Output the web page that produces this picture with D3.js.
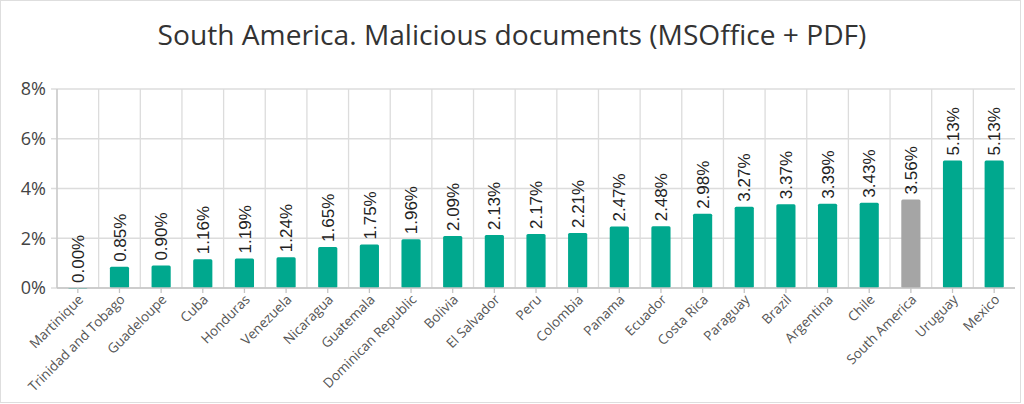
<!DOCTYPE html>
<html>
<head>
<meta charset="utf-8">
<script src="https://cdn.jsdelivr.net/npm/d3@7"></script>
<style>
    body { margin: 0; background: #fff; }
    svg { display: block; }
</style>
</head>
<body>
<div id="chart"></div>
<script>
// chart data
const countries = ["Martinique", "Trinidad and Tobago", "Guadeloupe", "Cuba", "Honduras", "Venezuela",
    "Nicaragua", "Guatemala", "Dominican Republic", "Bolivia", "El Salvador", "Peru", "Colombia",
    "Panama", "Ecuador", "Costa Rica", "Paraguay", "Brazil", "Argentina", "Chile", "South America",
    "Uruguay", "Mexico"];
const shares = [0.00, 0.85, 0.90, 1.16, 1.19, 1.24, 1.65, 1.75, 1.96, 2.09, 2.13, 2.17, 2.21,
    2.47, 2.48, 2.98, 3.27, 3.37, 3.39, 3.43, 3.56, 5.13, 5.13];
const yTicks = [0, 2, 4, 6, 8];
const titleText = "South America. Malicious documents (MSOffice + PDF)";
const highlight = "South America";

let width = 1024, height = 404;
let margin = {top: 89, right: 9, bottom: 116, left: 57};
let innerW = width - margin.left - margin.right;
let innerH = height - margin.top - margin.bottom;

let svg = d3.select("#chart").append("svg")
    .attr("width", width)
    .attr("height", height);

// outer frame
svg.append("rect")
    .attr("x", 0.5).attr("y", 0.5)
    .attr("width", 1020).attr("height", 402)
    .attr("fill", "none")
    .attr("stroke", "#dedede");

// title, sized to span the same width as the original
let title = svg.append("text")
    .attr("x", 512)
    .attr("y", 45)
    .attr("text-anchor", "middle")
    .attr("fill", "#333")
    .style("font-family", "'Open Sans', sans-serif")
    .style("font-size", "26px")
    .text(titleText);
let tw = title.node().getComputedTextLength();
title.style("font-size", (26 * 709 / tw).toFixed(2) + "px");

let g = svg.append("g")
    .attr("transform", `translate(${margin.left},${margin.top})`);

let x = d3.scaleBand()
    .domain(countries)
    .range([0, innerW])
    .paddingInner(0.54)
    .paddingOuter(0.27);

let y = d3.scaleLinear()
    .domain([0, 8])
    .range([innerH, 0]);

// horizontal grid + y ticks
g.selectAll(".hgrid")
    .data(yTicks)
    .enter().append("line")
    .attr("class", "hgrid")
    .attr("x1", -6).attr("x2", innerW)
    .attr("y1", d => y(d)).attr("y2", d => y(d))
    .attr("stroke", "#dcdcdc")
    .attr("stroke-width", 1.3);

// vertical grid at band edges
let step = x.step();
g.selectAll(".vgrid")
    .data(countries)
    .enter().append("line")
    .attr("class", "vgrid")
    .attr("x1", d => x(d) - x.paddingOuter() * step)
    .attr("x2", d => x(d) - x.paddingOuter() * step)
    .attr("y1", 0).attr("y2", innerH)
    .attr("stroke", "#dcdcdc")
    .attr("stroke-width", 1.3);

// left axis line
g.append("line")
    .attr("x1", 0).attr("x2", 0)
    .attr("y1", 0).attr("y2", innerH)
    .attr("stroke", "#c8c8c8")
    .attr("stroke-width", 1.3);

// y tick labels
g.selectAll(".ylab")
    .data(yTicks)
    .enter().append("text")
    .attr("class", "ylab")
    .attr("x", -11)
    .attr("y", d => y(d))
    .attr("dy", "0.36em")
    .attr("text-anchor", "end")
    .attr("fill", "#444")
    .style("font-family", "'Open Sans', sans-serif")
    .style("font-size", "18px")
    .text(d => d + "%");

// bars
g.selectAll(".bar")
    .data(countries)
    .enter().append("rect")
    .attr("class", "bar")
    .attr("x", d => x(d))
    .attr("width", x.bandwidth())
    .attr("y", (d, i) => y(shares[i]))
    .attr("height", (d, i) => Math.max(1, innerH - y(shares[i])))
    .attr("rx", 1.5)
    .attr("fill", d => d === highlight ? "#a5a5a5" : "#00a88e");

// bottom axis line
g.append("line")
    .attr("x1", 0).attr("x2", innerW)
    .attr("y1", innerH).attr("y2", innerH)
    .attr("stroke", "#c4c4c4")
    .attr("stroke-width", 1.5);

// x ticks
g.selectAll(".xtick")
    .data(countries)
    .enter().append("line")
    .attr("class", "xtick")
    .attr("x1", d => x(d) + x.bandwidth() / 2)
    .attr("x2", d => x(d) + x.bandwidth() / 2)
    .attr("y1", innerH).attr("y2", innerH + 5)
    .attr("stroke", "#c4c4c4")
    .attr("stroke-width", 1.3);

// category labels
g.selectAll(".xlab")
    .data(countries)
    .enter().append("text")
    .attr("class", "xlab")
    .attr("transform", d => `translate(${x(d) + x.bandwidth() / 2 + 3},${innerH + 9}) rotate(-45)`)
    .attr("text-anchor", "end")
    .attr("dy", "0.35em")
    .attr("fill", "#555")
    .style("font-family", "'Open Sans', sans-serif")
    .style("font-size", "13.5px")
    .text(d => d);

// value labels
g.selectAll(".vlab")
    .data(countries)
    .enter().append("text")
    .attr("class", "vlab")
    .attr("transform", (d, i) => `translate(${x(d) + x.bandwidth() / 2},${y(shares[i]) - 5}) rotate(-90)`)
    .attr("dy", "0.36em")
    .attr("text-anchor", "start")
    .attr("fill", "#222")
    .style("font-family", "'Liberation Sans', Arial, sans-serif")
    .style("font-size", "17px")
    .text((d, i) => shares[i].toFixed(2) + "%");
</script>
</body>
</html>
